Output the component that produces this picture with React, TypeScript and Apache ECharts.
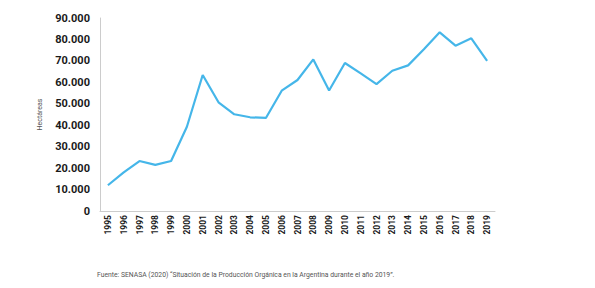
import React, { useEffect, useRef } from "react";
import * as echarts from "echarts";

const years = ["1995","1996","1997","1998","1999","2000","2001","2002","2003","2004","2005","2006","2007","2008","2009","2010","2011","2012","2013","2014","2015","2016","2017","2018","2019"];
const hectares = [12000,18000,23300,21500,23300,39300,63400,50700,45100,43700,43400,56100,61100,70700,56200,69000,64200,59200,65400,67900,75400,83300,77100,80500,70000];
const yTicks = { min: 0, max: 90000, interval: 10000 };
const sourceText = "Fuente: SENASA (2020) \u201cSituaci\u00f3n de la Producci\u00f3n Org\u00e1nica en la Argentina durante el a\u00f1o 2019\u201d.";

function fmt(v: number): string {
  return String(v).replace(/\B(?=(\d{3})+(?!\d))/g, ".");
}

export default function App() {
  const ref = useRef<HTMLDivElement>(null);
  useEffect(() => {
    if (!ref.current) return;
    const chart = echarts.init(ref.current, null, { renderer: "svg" });
    chart.setOption({
      animation: false,
      backgroundColor: "#ffffff",
      title: {
        text: sourceText,
        left: 92,
        top: 266,
        textStyle: { fontFamily: "Roboto", fontSize: 6.8, fontWeight: "normal", color: "#555555" },
      },
      grid: { left: 100, right: 100, top: 18, bottom: 77 },
      xAxis: {
        type: "category",
        data: years,
        boundaryGap: true,
        axisLine: { show: true, lineStyle: { color: "#cccccc", width: 1 } },
        axisTick: { show: false },
        axisLabel: {
          rotate: 90,
          interval: 0,
          margin: 4,
          fontFamily: "Roboto",
          fontWeight: "bold",
          fontSize: 8.5,
          color: "#1a1a1a",
        },
        splitLine: { show: false },
      },
      yAxis: {
        type: "value",
        min: yTicks.min,
        max: yTicks.max,
        interval: yTicks.interval,
        name: "Hect\u00e1reas",
        nameLocation: "middle",
        nameRotate: 90,
        nameGap: 57,
        nameTextStyle: { fontFamily: "Roboto", fontSize: 7, color: "#555555" },
        axisLine: { show: true, lineStyle: { color: "#cccccc", width: 1 } },
        axisTick: { show: false },
        splitLine: { show: false },
        axisLabel: {
          formatter: (v: number) => fmt(v),
          margin: 10,
          fontFamily: "Roboto",
          fontWeight: "bold",
          fontSize: 11,
          color: "#1a1a1a",
        },
      },
      series: [
        {
          type: "line",
          data: hectares,
          symbol: "none",
          lineStyle: { color: "#45b6e9", width: 2.2 },
          itemStyle: { color: "#45b6e9" },
        },
      ],
    });
    return () => chart.dispose();
  }, []);
  return <div ref={ref} style={{ width: 595, height: 288, position: "absolute", left: 0, top: 0 }} />;
}
